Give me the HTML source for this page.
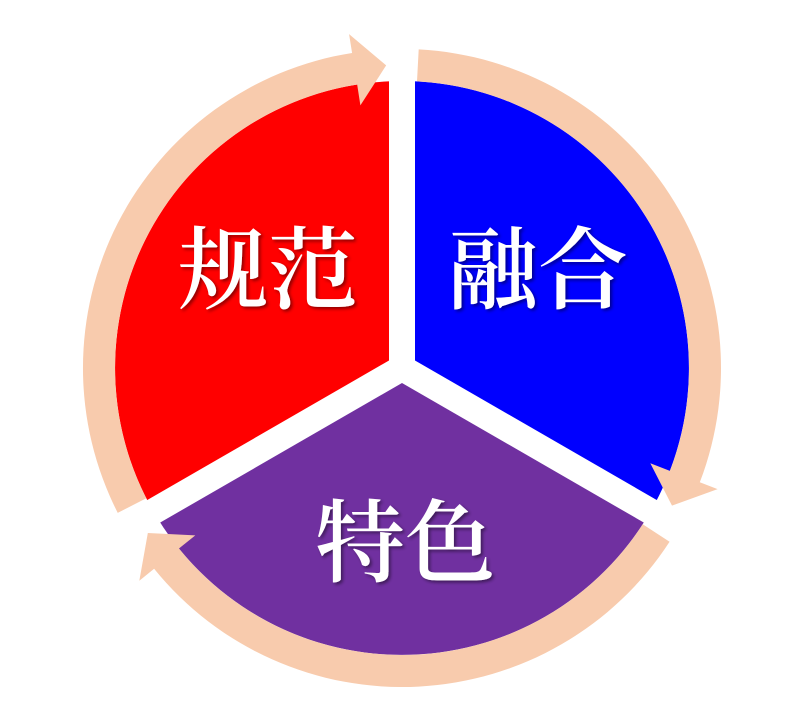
<!DOCTYPE html>
<html><head><meta charset="utf-8"><style>
html,body{margin:0;padding:0;background:#fff;width:795px;height:710px;overflow:hidden;}
svg{display:block;}
text{font-family:"Liberation Serif","Noto Serif CJK SC",serif;fill:#fff;font-size:90px;font-weight:600;text-anchor:middle;dominant-baseline:central;}
</style></head><body>
<svg width="795" height="710" viewBox="0 0 795 710" xmlns="http://www.w3.org/2000/svg">
<defs><filter id="sh" x="-20%" y="-20%" width="140%" height="140%"><feDropShadow dx="2" dy="2" stdDeviation="1.5" flood-color="#000" flood-opacity="0.45"/></filter></defs>
<path d="M402 368 L402 81 A287 287 0 0 1 650.5 511.5 Z" fill="#0000FF"/>
<path d="M402 368 L650.5 511.5 A287 287 0 0 1 153.5 511.5 Z" fill="#7030A0"/>
<path d="M402 368 L153.5 511.5 A287 287 0 0 1 402 81 Z" fill="#FF0000"/>
<g stroke="#fff" stroke-width="26">
<line x1="402" y1="368" x2="402" y2="75"/>
<line x1="402" y1="368" x2="655" y2="514"/>
<line x1="402" y1="368" x2="149" y2="514"/>
</g>
<g fill="#F8CBAD">
<path d="M418.7 49.4 A319 319 0 0 1 699.8 482.3 L717.6 489.1 L672 505.6 L650.3 463.3 L669.9 470.9 A287 287 0 0 0 417 81.4 Z"/>
<path d="M418.7 49.4 A319 319 0 0 1 699.8 482.3 L717.6 489.1 L672 505.6 L650.3 463.3 L669.9 470.9 A287 287 0 0 0 417 81.4 Z" transform="rotate(120 402 368)"/>
<path d="M418.7 49.4 A319 319 0 0 1 699.8 482.3 L717.6 489.1 L672 505.6 L650.3 463.3 L669.9 470.9 A287 287 0 0 0 417 81.4 Z" transform="rotate(240 402 368)"/>
</g>
<g filter="url(#sh)">
<text x="268" y="272">规范</text>
<text x="538" y="272">融合</text>
<text x="405" y="545">特色</text>
</g>
</svg>
</body></html>
